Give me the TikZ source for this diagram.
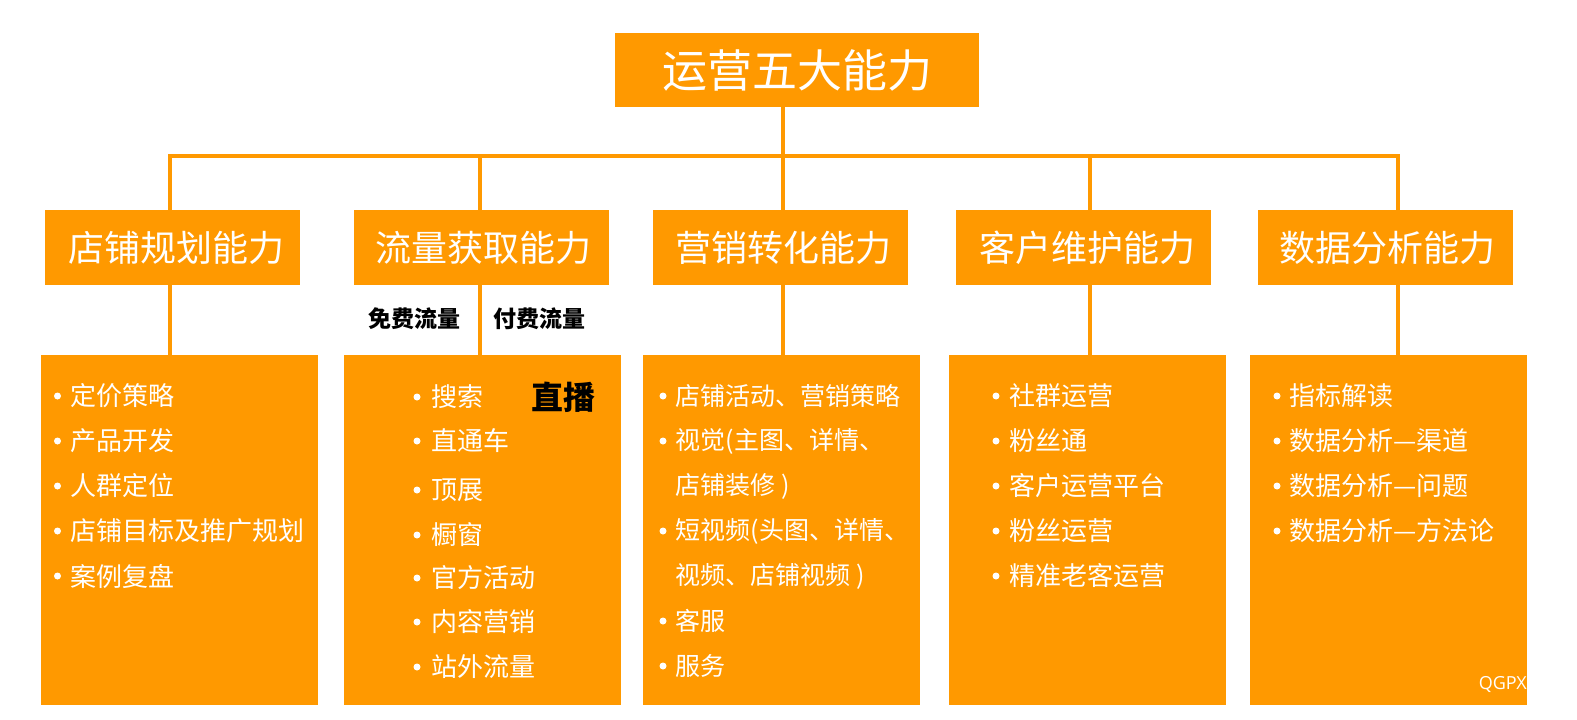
\documentclass[tikz,border=0pt]{standalone}
\usepackage{fontspec}
\setmainfont{Noto Sans CJK SC}
\newfontfamily\latinfont{Open Sans}
\definecolor{org}{RGB}{255,153,0}
\begin{document}
\begin{tikzpicture}[x=1pt,y=-1pt,
  obox/.style={fill=org, draw=none, inner sep=0pt, text=white},
  lvltwo/.style={obox, minimum width=255pt, minimum height=75pt, font=\fontsize{36}{36}\selectfont},
  lvlthree/.style={obox, minimum width=277pt, minimum height=350pt},
  conn/.style={draw=org, line width=4pt, line join=miter},
  item/.style={anchor=west, text=white, inner sep=0pt, font=\fontsize{26}{26}\selectfont},
  itemc/.style={item, font=\fontsize{25}{25}\selectfont},
  blk/.style={text=black, inner sep=0pt, font=\bfseries\fontsize{23}{23}\selectfont}]
\useasboundingbox[fill=white] (0,0) rectangle (1577,720);

% top
\node[obox, minimum width=364pt, minimum height=74pt, font=\fontsize{45}{45}\selectfont] (top) at (797,70) {运营五大能力};

% level two
\node[lvltwo] (la) at (172.5,247.5) {\hspace*{8pt}店铺规划能力};
\node[lvltwo] (lb) at (481,247.5) {\hspace*{5pt}流量获取能力};
\node[lvltwo] (lc) at (780.5,247.5) {\hspace*{5pt}营销转化能力};
\node[lvltwo] (ld) at (1083,247.5) {\hspace*{8pt}客户维护能力};
\node[lvltwo] (le) at (1385,247.5) {\hspace*{4pt}数据分析能力};

% level three
\node[lvlthree] (ba) at (179.5,530) {};
\node[lvlthree] (bb) at (482,530) {};
\node[lvlthree] (bc) at (781.5,530) {};
\node[lvlthree] (bd) at (1087.5,530) {};
\node[lvlthree] (be) at (1388,530) {};

% connectors
\coordinate (c1) at (170,156);
\coordinate (c2) at (480,156);
\coordinate (c3) at (783,156);
\coordinate (c4) at (1090,156);
\coordinate (c5) at (1398,156);
\draw[conn] (top.south -| c3) -- (c3);
\draw[conn] (la.north -| c1) -- (c1) -- (c5) -- (le.north -| c5);
\draw[conn] (c2) -- (lb.north -| c2);
\draw[conn] (c3) -- (lc.north -| c3);
\draw[conn] (c4) -- (ld.north -| c4);
\draw[conn] (la.south -| c1) -- (ba.north -| c1);
\draw[conn] (lb.south -| c2) -- (bb.north -| c2);
\draw[conn] (lc.south -| c3) -- (bc.north -| c3);
\draw[conn] (ld.south -| c4) -- (bd.north -| c4);
\draw[conn] (le.south -| c5) -- (be.north -| c5);

% labels
\node[blk] (free) at (414,319) {免费流量};
\node[blk] (paid) at (539,319) {付费流量};
\node[text=black, inner sep=0pt, font=\bfseries\fontsize{32}{32}\selectfont] (live) at (563,397) {直播};

% column 1
\foreach \t [count=\i] in {定价策略,产品开发,人群定位,店铺目标及推广规划,案例复盘}{
  \fill[white] (57.5,{396+45*(\i-1)}) circle[radius=3.5];
  \node[item] (ia\i) at (70.5,{396+45*(\i-1)}) {\t};
}
% column 2
\foreach \t/\y [count=\i] in {搜索/397,直通车/441,顶展/490,橱窗/535,官方活动/578,内容营销/622,站外流量/667}{
  \fill[white] (417,\y) circle[radius=3.5];
  \node[item] (ib\i) at (431,\y) {\t};
}
% column 3
\foreach \t/\y [count=\i] in {店铺活动、营销策略/396,{视觉(主图、详情、}/441,{短视频(头图、详情、}/531,客服/621,服务/666}{
  \fill[white] (663,\y) circle[radius=3.5];
  \node[itemc] (ic\i) at (675.5,\y) {\t};
}
\node[itemc] (icx) at (675.5,486) {店铺装修 )};
\node[itemc] (icy) at (675.5,576) {视频、店铺视频 )};
% column 4
\foreach \t [count=\i] in {社群运营,粉丝通,客户运营平台,粉丝运营,精准老客运营}{
  \fill[white] (996,{396+45*(\i-1)}) circle[radius=3.5];
  \node[item] (id\i) at (1009,{396+45*(\i-1)}) {\t};
}
% column 5
\foreach \t [count=\i] in {指标解读,数据分析—渠道,数据分析—问题,数据分析—方法论}{
  \fill[white] (1277,{396+45*(\i-1)}) circle[radius=3.5];
  \node[item] (ie\i) at (1289,{396+45*(\i-1)}) {\t};
}

\node[anchor=east, text=white, inner sep=0pt, font=\latinfont\fontsize{18}{18}\selectfont] (wm) at (1527,684) {QGPX};
\end{tikzpicture}
\end{document}
